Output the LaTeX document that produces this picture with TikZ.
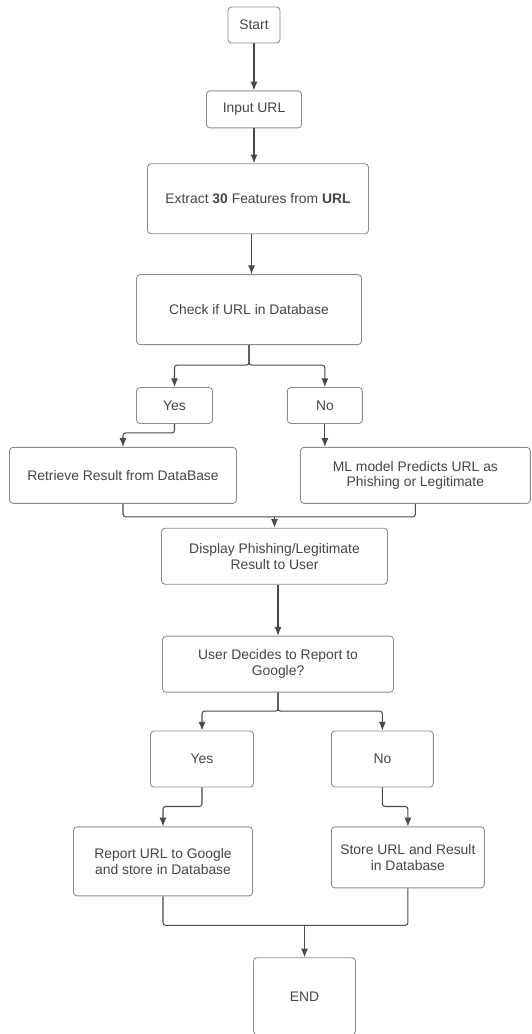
\documentclass[tikz,border=0pt]{standalone}
\usepackage{fontspec}
\setmainfont{Liberation Sans}
\usetikzlibrary{positioning, arrows.meta}
\definecolor{linegray}{HTML}{4A4A4A}
\definecolor{boxgray}{HTML}{8C8C8C}
\definecolor{textgray}{HTML}{454545}
\tikzset{flow node/.style={draw=boxgray, rounded corners=2pt, align=center, inner sep=2pt, text=textgray, font=\fontsize{7.9}{9}\selectfont, line width=0.5pt},}

\begin{document}
\begin{tikzpicture}[-{Latex[length=5pt,width=4pt]}, color=linegray, line width=0.6pt, rounded corners=1.5pt]
	\useasboundingbox (0,0) rectangle (10.62,-20.68);
	% Boxes
	\node[flow node, minimum width=1.04cm, minimum height=0.72cm] (start) at (5.08,-0.5) {Start};
	\node[flow node, minimum width=1.9cm, minimum height=0.74cm] [below = 0.94cm of start] (input) {Input URL};
	\node[flow node, minimum width=4.42cm, minimum height=1.4cm] [below = 0.7cm of input, xshift=0.08cm] (extract) {Extract \textbf{30} Features from \textbf{URL}};
	\node[flow node, minimum width=4.5cm, minimum height=1.4cm] [below = 0.8cm of extract, xshift=-0.18cm] (check) {Check if URL in Database};
	\node[flow node, minimum width=1.52cm, minimum height=0.72cm] [below = 0.84cm of check, xshift=-1.49cm] (yes1) {Yes};
	\node[flow node, minimum width=1.5cm, minimum height=0.72cm] [right = 1.48cm of yes1] (no1) {No};
	\node[flow node, minimum width=4.54cm, minimum height=1.12cm] [below = 0.46cm of yes1, xshift=-1.03cm] (retrieve) {Retrieve Result from DataBase};
	\node[flow node, minimum width=4.6cm, minimum height=1.12cm] [below = 0.46cm of no1, xshift=1.81cm] (ml) {ML model Predicts URL as\\Phishing or Legitimate};
	\node[flow node, minimum width=4.52cm, minimum height=1.12cm] [below = 0.48cm of retrieve, xshift=3.03cm] (display) {Display Phishing/Legitimate\\Result to User};
	\node[flow node, minimum width=4.62cm, minimum height=1.12cm] [below = 1.02cm of display, xshift=0.07cm] (user) {User Decides to Report to\\Google?};
	\node[flow node, minimum width=2.06cm, minimum height=1.12cm] [below = 0.76cm of user, xshift=-1.52cm] (yes2) {Yes};
	\node[flow node, minimum width=2.04cm, minimum height=1.12cm] [right = 1.54cm of yes2] (no2) {No};
	\node[flow node, minimum width=3.58cm, minimum height=1.38cm] [below = 0.78cm of yes2, xshift=-0.78cm] (report) {Report URL to Google\\and store in Database};
	\node[flow node, minimum width=3.06cm, minimum height=1.22cm] [below = 0.78cm of no2, xshift=0.51cm] (store) {Store URL and Result\\in Database};
	\node[flow node, minimum width=2.04cm, minimum height=1.54cm] [below = 1.22cm of report, xshift=2.83cm] (end) {END};
	% Connectors
	\draw (start.south) -- (start.south |- input.north);
	\draw (input.south) -- (input.south |- extract.north);
	\draw ([xshift=0.05cm]check.north |- extract.south) -- ([xshift=0.05cm]check.north);
	\draw (check.south) -- ++(0,-0.4) -| (yes1.north);
	\draw (check.south) -- ++(0,-0.4) -| (no1.north);
	\draw (yes1.south) -- ++(0,-0.18) -| (retrieve.north);
	\draw (no1.south) -- (no1.south |- ml.north);
	\path (retrieve.south) ++(0,-0.26) coordinate (merge1);
	\draw[-] (retrieve.south) -- (merge1) -| (ml.south);
	\draw (merge1 -| display.north) -- (display.north);
	\draw (user.north |- display.south) -- (user.north);
	\draw (user.south) -- ++(0,-0.37) -| (yes2.north);
	\draw (user.south) -- ++(0,-0.37) -| (no2.north);
	\draw (yes2.south) -- ++(0,-0.38) -| (report.north);
	\draw (no2.south) -- ++(0,-0.38) -| (store.north);
	\path (report.south) ++(0,-0.58) coordinate (merge2);
	\draw[-] (report.south) -- (merge2) -| (store.south);
	\draw (merge2 -| end.north) -- (end.north);
\end{tikzpicture}
\end{document}
